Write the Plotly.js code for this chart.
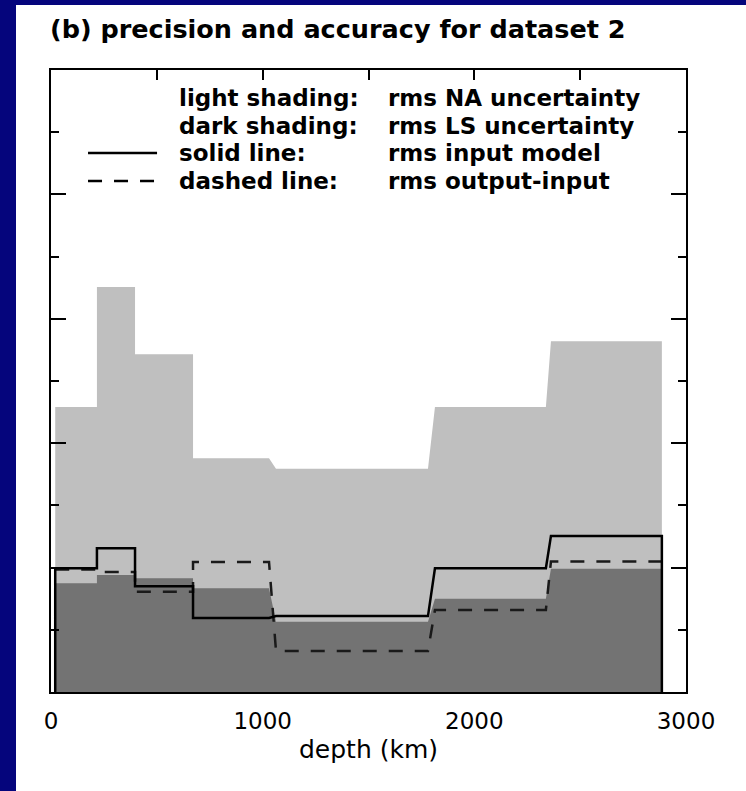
<!DOCTYPE html>
<html>
<head>
<meta charset="utf-8">
<script src="https://cdn.plot.ly/plotly-3.0.1.min.js"></script>
<style>
  html, body { margin: 0; padding: 0; width: 746px; height: 791px; background: #05057c; overflow: hidden; }
  #chart { position: absolute; left: 16px; top: 5px; width: 730px; height: 786px; background: #ffffff; }
</style>
</head>
<body>
<div id="chart"></div>
<script>
// Layer boundaries (depth, km)
const layerTop = [20, 217, 397, 671, 1063, 1814, 2362];
const layerBot = [217, 397, 671, 1030, 1781, 2338, 2886];
// Series values per layer
const naUncertainty = [4.58, 6.51, 5.43, 3.76, 3.59, 4.58, 5.64];   // light shading
const lsUncertainty = [1.75, 1.88, 1.83, 1.67, 1.13, 1.50, 1.98];   // dark shading
const inputModel    = [1.99, 2.31, 1.70, 1.19, 1.22, 1.99, 2.51];   // solid line
const outputInput   = [1.97, 1.93, 1.61, 2.09, 0.66, 1.32, 2.10];   // dashed line
// Axis ticks
const xTickVals = [0, 1000, 2000, 3000];
const xTickText = ['0', '1000', '2000', '3000'];
// Legend texts
const legendLeft  = ['light shading:', 'dark shading:', 'solid line:', 'dashed line:'];
const legendRight = ['rms NA uncertainty', 'rms LS uncertainty', 'rms input model', 'rms output-input'];

function steps(vals, dropEnds) {
  const x = [], y = [];
  if (dropEnds) { x.push(layerTop[0]); y.push(0); }
  for (let i = 0; i < vals.length; i++) {
    x.push(layerTop[i]); y.push(vals[i]);
    x.push(layerBot[i]); y.push(vals[i]);
  }
  if (dropEnds) { x.push(layerBot[layerBot.length - 1]); y.push(0); }
  return { x, y };
}

const light = steps(naUncertainty, false);
const dark = steps(lsUncertainty, false);
const solid = steps(inputModel, true);
const dashed = steps(outputInput, false);

const FONT = 'DejaVu Sans';
const traces = [
  { x: light.x, y: light.y, type: 'scatter', mode: 'lines', fill: 'tozeroy',
    fillcolor: '#bfbfbf', line: { width: 0, color: '#bfbfbf' }, hoverinfo: 'skip', showlegend: false },
  { x: dark.x, y: dark.y, type: 'scatter', mode: 'lines', fill: 'tozeroy',
    fillcolor: '#737373', line: { width: 0, color: '#737373' }, hoverinfo: 'skip', showlegend: false },
  { x: dashed.x, y: dashed.y, type: 'scatter', mode: 'lines',
    line: { width: 2.5, color: '#1a1a1a', dash: '14px,12px' }, hoverinfo: 'skip', showlegend: false },
  { x: solid.x, y: solid.y, type: 'scatter', mode: 'lines',
    line: { width: 2.5, color: '#000000' }, hoverinfo: 'skip', showlegend: false },
  // invisible trace to activate top axis
  { x: [0], y: [0], xaxis: 'x2', type: 'scatter', mode: 'markers', marker: { opacity: 0 },
    hoverinfo: 'skip', showlegend: false }
];

// legend rows (paper coords)
const rowY = [0.955, 0.910, 0.8666, 0.8215];
const annotations = [];
for (let i = 0; i < 4; i++) {
  annotations.push({ xref: 'paper', yref: 'paper', x: 0.199, y: rowY[i], xanchor: 'left', yanchor: 'middle',
    text: legendLeft[i], showarrow: false, font: { family: FONT, size: 23, color: '#000', weight: 'bold' } });
  annotations.push({ xref: 'paper', yref: 'paper', x: 0.5276, y: rowY[i], xanchor: 'left', yanchor: 'middle',
    text: legendRight[i], showarrow: false, font: { family: FONT, size: 23, color: '#000', weight: 'bold' } });
}

const shapes = [
  { type: 'line', xref: 'paper', yref: 'paper', x0: 0.0583, x1: 0.167, y0: rowY[2], y1: rowY[2],
    line: { color: '#000', width: 2.5 } },
  { type: 'line', xref: 'paper', yref: 'paper', x0: 0.0583, x1: 0.167, y0: rowY[3], y1: rowY[3],
    line: { color: '#000', width: 2.5, dash: '14px,12px' } }
];

const layout = {
  width: 730, height: 786,
  margin: { l: 35, r: 60, t: 65, b: 99 },
  paper_bgcolor: '#ffffff', plot_bgcolor: '#ffffff',
  showlegend: false,
  title: { text: '(b) precision and accuracy for dataset 2', xref: 'container', yref: 'container',
    x: 0.0466, xanchor: 'left', y: 0.970, yanchor: 'middle',
    font: { family: FONT, size: 25.5, color: '#000', weight: 'bold' } },
  xaxis: {
    range: [0, 3000], showgrid: false, zeroline: false,
    showline: true, linecolor: '#000', linewidth: 2, mirror: true,
    ticks: '', tickvals: xTickVals, ticktext: xTickText, ticklabelstandoff: 7,
    tickfont: { family: FONT, size: 23, color: '#000' },
    title: { text: 'depth (km)', standoff: 8, font: { family: FONT, size: 25, color: '#000' } }
  },
  xaxis2: {
    overlaying: 'x', matches: 'x', side: 'top', range: [0, 3000], showgrid: false, zeroline: false,
    showline: false, ticks: 'inside', dtick: 500, tick0: 0, ticklen: 10, tickwidth: 2, tickcolor: '#000',
    showticklabels: false
  },
  yaxis: {
    range: [0, 10], showgrid: false, zeroline: false,
    showline: true, linecolor: '#000', linewidth: 2, mirror: 'ticks',
    ticks: 'inside', dtick: 2, tick0: 0, ticklen: 15, tickwidth: 2, tickcolor: '#000',
    minor: { dtick: 1, tick0: 0, ticklen: 8, tickwidth: 2, tickcolor: '#000', ticks: 'inside' },
    showticklabels: false
  },
  annotations: annotations,
  shapes: shapes
};

Plotly.newPlot('chart', traces, layout, { displayModeBar: false, staticPlot: true });
</script>
</body>
</html>
